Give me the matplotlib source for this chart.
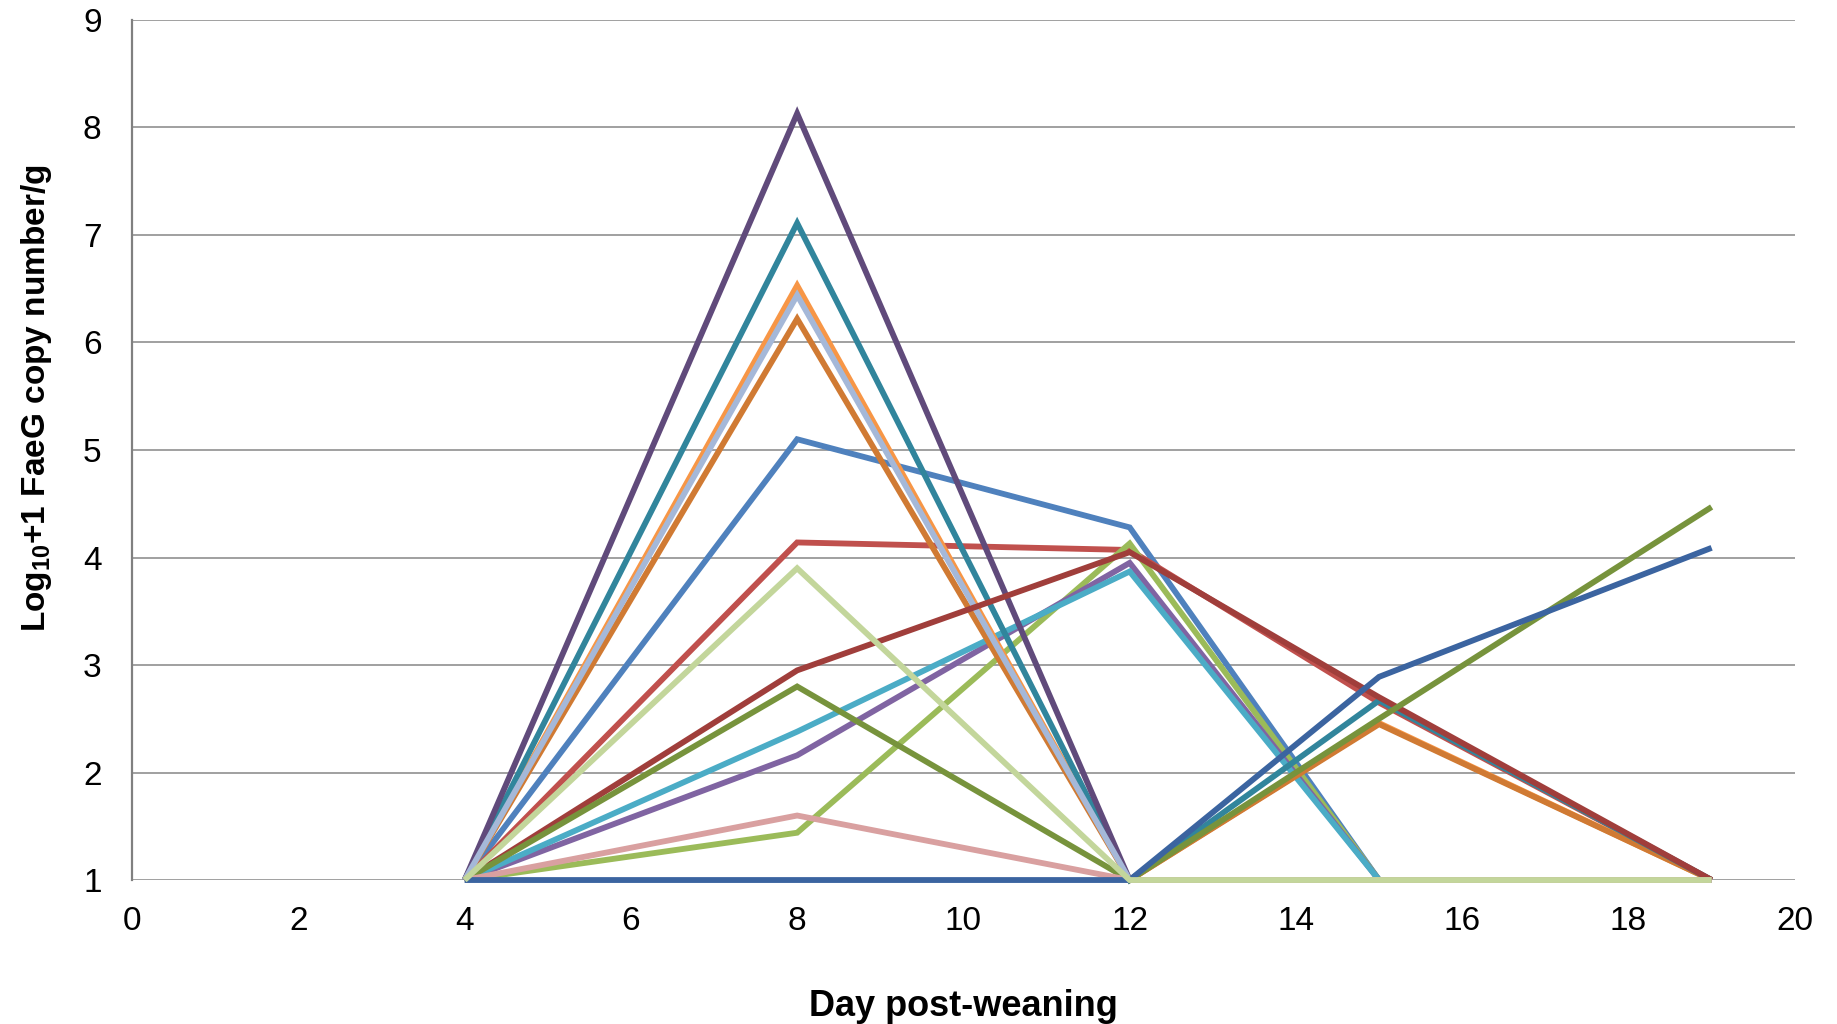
import matplotlib
matplotlib.use("Agg")
from matplotlib import pyplot as plt

plt.rcParams['font.family'] = ['Liberation Sans', 'DejaVu Sans']
plt.rcParams['mathtext.fontset'] = 'custom'
plt.rcParams['mathtext.rm'] = 'Liberation Sans'
plt.rcParams['mathtext.bf'] = 'Liberation Sans:bold'

# sampling days
days = [4, 8, 12, 15, 19]

# one list per animal, log10+1 FaeG copies/g
blue = [1, 5.10, 4.28, 1, 1]
red = [1, 4.14, 4.07, 2.65, 1]
green = [1, 1.44, 4.13, 1, 1]
purple = [1, 2.16, 3.95, 1, 1]
aqua = [1, 2.38, 3.87, 1, 1]
orange = [1, 6.53, 1, 2.46, 1]
dark_orange = [1, 6.22, 1, 2.45, 1]
teal = [1, 7.11, 1, 2.67, 1]
dark_purple = [1, 8.13, 1, 1, 1]
blue_grey = [1, 6.44, 1, 1, 1]
dark_red = [1, 2.95, 4.05, 2.70, 1]
olive = [1, 2.80, 1, 2.50, 4.47]
pink = [1, 1.60, 1, 1, 1]
dark_blue = [1, 1, 1, 2.89, 4.09]
light_green = [1, 3.90, 1, 1, 1]

series = [blue, red, green, purple, aqua, orange, dark_orange, teal,
          dark_purple, blue_grey, dark_red, olive, pink, dark_blue, light_green]
colors = ['#4F81BD', '#C0504D', '#9BBB59', '#8064A2', '#4BACC6', '#F79646',
          '#D07A33', '#31859C', '#604A7B', '#A5B8D8', '#A03E3B', '#77933C',
          '#D9A0A0', '#3B64A0', '#C3D69B']

fig = plt.figure(figsize=(18.37, 10.24), dpi=100)
ax = fig.add_axes([0.0719, 0.1406, 0.9051, 0.8399])

for vals, c in zip(series, colors):
    ax.plot(days, vals, color=c, lw=4.2, solid_joinstyle='miter',
            solid_capstyle='butt', clip_on=False, zorder=3)

ax.set_xlim(0, 20)
ax.set_ylim(1, 9)
ax.set_xticks(range(0, 21, 2))
ax.set_yticks(range(1, 10))
ax.yaxis.grid(True, color='#A0A0A0', lw=1.4)
ax.set_axisbelow(True)
for s in ['top', 'right', 'bottom']:
    ax.spines[s].set_visible(False)
ax.spines['left'].set_color('#808080')
ax.spines['left'].set_linewidth(1.6)
ax.tick_params(length=0, labelsize=24, colors='black')
ax.tick_params(axis='y', pad=22)
ax.tick_params(axis='x', pad=19)

ax.set_xlabel('Day post-weaning', fontsize=26, fontweight='bold', labelpad=37)
ax.set_ylabel(r'Log$_{\mathbf{10}}$+1 FaeG copy number/g', fontsize=24,
              fontweight='bold')
ax.yaxis.set_label_coords(-0.047, 0.56)

fig.savefig('out.png', dpi=100)
